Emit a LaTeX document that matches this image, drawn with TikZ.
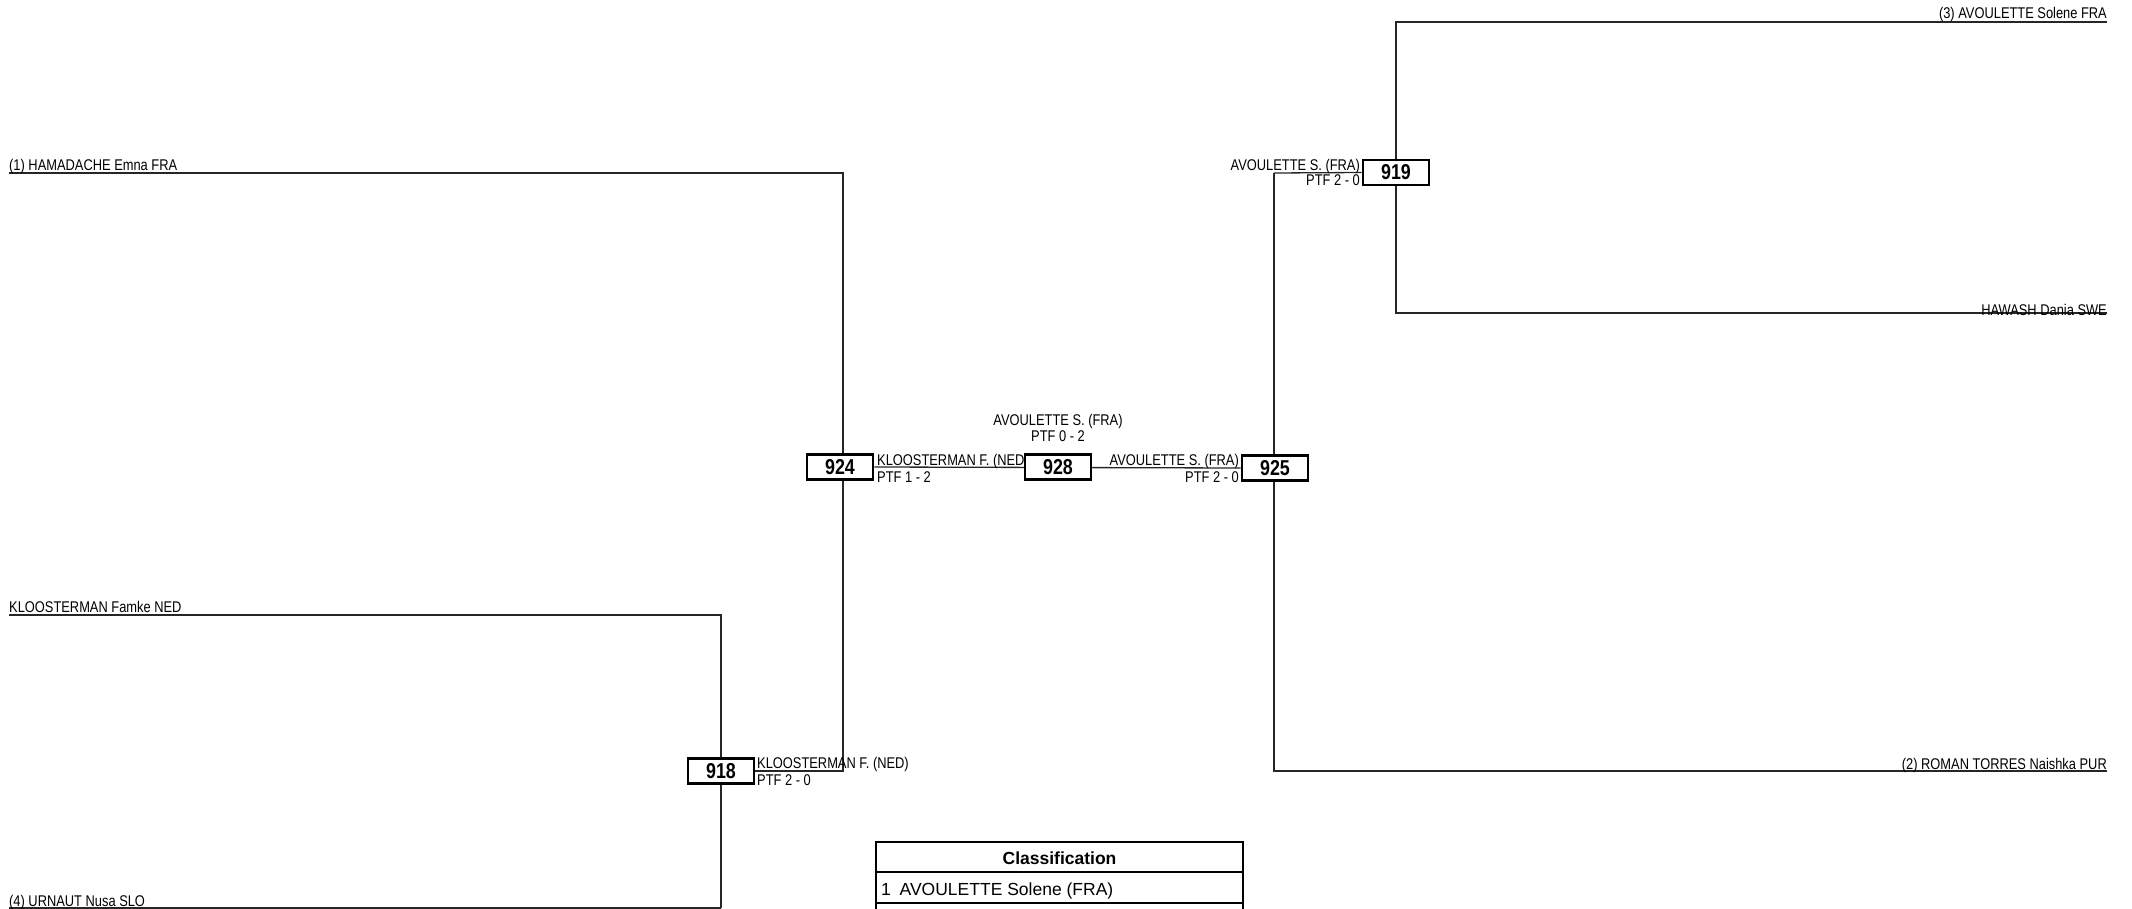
\documentclass[tikz,border=0pt]{standalone}
\usepackage{fontspec}
\usetikzlibrary{backgrounds}
\setmainfont{Liberation Sans}
\newfontfamily\nar[FakeStretch=0.83]{Liberation Sans}
\begin{document}
\begin{tikzpicture}[x=1pt,y=-1pt,
  line/.style={line width=1.3pt,draw=black!85},
  matchbox/.style={draw,line width=2.6pt,fill=white,inner sep=0pt,minimum width=66pt,minimum height=25pt,font=\nar\bfseries\fontsize{21.5}{23}\selectfont},
  lbl/.style={inner sep=0pt,font=\nar\fontsize{15.5}{17}\selectfont},
  tbl/.style={inner sep=0pt,font=\fontsize{17.5}{19}\selectfont}]
\useasboundingbox (0,0) rectangle (2132,909);
\clip (0,0) rectangle (2132,909);
% coordinates
\coordinate (a1) at (9,173);
\coordinate (a2) at (843,173);
\coordinate (a3) at (843,771);
\coordinate (b1) at (9,615);
\coordinate (b2) at (721,615);
\coordinate (b3) at (721,908);
\coordinate (b4) at (9,908);
\coordinate (r1) at (1274,173);
\coordinate (r2) at (1274,771);
\coordinate (r3) at (2107,771);
\coordinate (t1) at (1396,22);
\coordinate (t2) at (2107,22);
\coordinate (t3) at (1396,313);
\coordinate (t4) at (2107,313);
% boxes
\node[matchbox] (m918) at (721,771) {918};
\node[matchbox] (m924) at (840,467) {924};
\node[matchbox] (m928) at (1058,467) {928};
\node[matchbox] (m925) at (1275,468) {925};
\node[matchbox] (m919) at (1396,172.5) {919};
% lines behind boxes
\begin{scope}[on background layer]
\draw[line] (a1) -- (a2) -- (a3) -- (m918.east);
\draw[line] (b1) -- (b2) -- (b3);
\draw[line] (b4) -- (b3);
\draw[line] (m924.east) -- (m925.west);
\draw[line] (r1) -- (r2) -- (r3);
\draw[line] (r1) -- (m919.west);
\draw[line] (t2) -- (t1) -- (t3) -- (t4);
\end{scope}
% player labels
\node[lbl,anchor=base west] (p1) at (9,170.5) {(1) HAMADACHE Emna FRA};
\node[lbl,anchor=base west] (p2) at (9,612) {KLOOSTERMAN Famke NED};
\node[lbl,anchor=base west] (p3) at (9,906) {(4) URNAUT Nusa SLO};
\node[lbl,anchor=base east] (p4) at (2107,19) {(3) AVOULETTE Solene FRA};
\node[lbl,anchor=base east] (p5) at (2107,315) {HAWASH Dania SWE};
\node[lbl,anchor=base east] (p6) at (2107,769) {(2) ROMAN TORRES Naishka PUR};
% result labels
\node[lbl,anchor=base west] (w918a) at (757,768) {KLOOSTERMAN F. (NED)};
\node[lbl,anchor=base west] (w918b) at (757,785) {PTF 2 - 0};
\node[lbl,anchor=base west] (w924a) at (877,465) {KLOOSTERMAN F. (NED};
\node[lbl,anchor=base west] (w924b) at (877,482) {PTF 1 - 2};
\node[lbl,anchor=base east] (w925a) at (1239,465) {AVOULETTE S. (FRA)};
\node[lbl,anchor=base east] (w925b) at (1239,482) {PTF 2 - 0};
\node[lbl,anchor=base east] (w919a) at (1360,171) {AVOULETTE S. (FRA)};
\node[lbl,anchor=base east] (w919b) at (1360,185.5) {PTF 2 - 0};
\node[lbl,anchor=base] (w928a) at (1058,425) {AVOULETTE S. (FRA)};
\node[lbl,anchor=base] (w928b) at (1058,441) {PTF 0 - 2};
% keep box 928 above the clipped label
\node[matchbox] at (m928) {928};
% classification table
\draw[line width=2pt] (876,842) rectangle (1243,930);
\draw[line width=2pt] (876,872) -- (1243,872);
\draw[line width=2pt] (876,903) -- (1243,903);
\node[tbl,font=\bfseries\fontsize{17.5}{19}\selectfont,anchor=base] (cl) at (1059.5,864) {Classification};
\node[tbl,anchor=base west] (c1) at (881,895) {1\enspace AVOULETTE Solene (FRA)};
\end{tikzpicture}
\end{document}
